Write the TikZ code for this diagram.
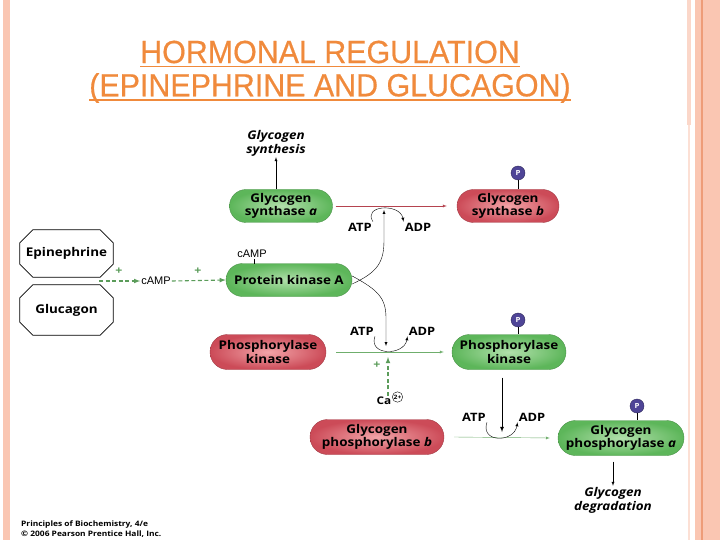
\documentclass[tikz,border=0pt]{standalone}
\usepackage{fontspec}
\setmainfont{Liberation Sans}
\newfontfamily\titlefont[FakeStretch=0.95,FakeBold=0.5]{Liberation Sans}
\newfontfamily\labelfont[FakeStretch=1.12]{Open Sans}
\usetikzlibrary{shapes.misc}

\definecolor{titleorange}{HTML}{F08A3C}
\definecolor{stripe}{HTML}{FAC6B2}
\definecolor{stripedark}{HTML}{EE9C78}
\definecolor{greenin}{HTML}{B2E0AC}
\definecolor{greenout}{HTML}{5DB65A}
\definecolor{redin}{HTML}{F2A4A8}
\definecolor{redout}{HTML}{CC4B58}
\definecolor{phosph}{HTML}{4F4597}
\definecolor{dashgreen}{HTML}{5B9C5A}
\definecolor{redline}{HTML}{B5434F}
\definecolor{greenline}{HTML}{6FAE6C}

\tikzset{
  titletext/.style={text=titleorange, inner sep=0pt, font=\titlefont\fontsize{32}{38}\selectfont},
  underl/.style={titleorange, line width=1.8pt},
  pill/.style={rounded rectangle, align=center, minimum height=33pt, inner sep=2pt,
    font=\labelfont\bfseries\fontsize{12}{13.5}\selectfont},
  greenpill/.style={pill, inner color=greenin, outer color=greenout, draw=greenout!80!black},
  redpill/.style={pill, inner color=redin, outer color=redout, draw=redout!80!black},
  hormone/.style={rectangle, inner sep=0pt, minimum width=93pt,
    font=\labelfont\bfseries\fontsize{12}{13}\selectfont},
  phos/.style={circle, fill=phosph, draw=phosph!60!black, inner sep=0pt, minimum size=14pt,
    text=white, font=\labelfont\bfseries\fontsize{7}{7}\selectfont},
  small/.style={inner sep=1pt, font=\labelfont\bfseries\fontsize{11.5}{12}\selectfont},
  outcome/.style={align=center, inner sep=1pt, font=\labelfont\bfseries\itshape\fontsize{12}{14}\selectfont},
  activ/.style={dashgreen, line width=1.1pt, dash pattern=on 4pt off 2.5pt, -latex},
  plus/.style={text=dashgreen, inner sep=0pt, font=\labelfont\bfseries\fontsize{11}{11}\selectfont}
}

\begin{document}
\begin{tikzpicture}[x=1pt,y=-1pt]
  \useasboundingbox (0,0) rectangle (720,540);
  % slide borders
  \fill[stripe] (3,0) rectangle (10,540);
  \fill[stripe!70] (687,0) rectangle (690.5,125);
  \fill[stripe!55] (688,125) rectangle (690,540);
  \fill[stripe] (695,0) rectangle (720,540);
  \draw[stripedark, line width=1.2pt] (702,0) -- (702,540);

  % title
  \node[titletext] (title1) at (330,52) {HORMONAL REGULATION};
  \node[titletext] (title2) at (330,88) {(EPINEPHRINE AND GLUCAGON)};
  \draw[underl] ([yshift=-3.5pt]title1.base west) -- ([yshift=-3.5pt]title1.base east);
  \draw[underl] ([yshift=-3.5pt]title2.base west) -- ([yshift=-3.5pt]title2.base east);

  % glycogen synthase
  \node[outcome] (synth) at (276,143) {Glycogen\\synthesis};
  \node[greenpill, minimum width=107pt] (gsa) at (281,206) {Glycogen\\synthase \textit{a}};
  \node[redpill, minimum width=106pt] (gsb) at (508,206) {Glycogen\\synthase \textit{b}};
  \node[phos] (p1) at (518,173) {P};
  \draw[thick] (p1) -- (p1 |- gsb.north);
  \draw[-latex] (gsa.north -| synth) -- (synth.south);
  \draw[redline, -latex] ([xshift=3pt]gsa.east) -- ([xshift=-10pt]gsb.west);
  \node[small] (atp1) at (360,227) {ATP};
  \node[small] (adp1) at (418,227) {ADP};
  \draw[-latex] (atp1.north east) .. controls (362,205) and (400,203) .. (adp1.north west);

  % hormones
  \node[hormone, minimum height=47pt] (epi) at (66.5,253.5) {Epinephrine};
  \node[hormone, minimum height=50pt] (glu) at (66.5,310) {Glucagon};
  \foreach \h in {epi,glu}
    \draw[thick] ([xshift=13pt]\h.north west) -- ([xshift=-13pt]\h.north east)
      -- ([yshift=-13pt]\h.north east) -- ([yshift=13pt]\h.south east)
      -- ([xshift=-13pt]\h.south east) -- ([xshift=13pt]\h.south west)
      -- ([yshift=13pt]\h.south west) -- ([yshift=-13pt]\h.north west) -- cycle;
  \node[inner sep=1pt, font=\fontsize{11}{12}\selectfont] (camp1) at (156,281) {cAMP};
  \draw[activ] (99,281) -- (camp1.west);
  \node[plus] (plus1) at (119,271) {+};

  % protein kinase A
  \node[greenpill, minimum width=130pt] (pka) at (289,280) {Protein kinase A};
  \node[inner sep=1pt, font=\fontsize{11}{12}\selectfont] (camp2) at (252,254) {cAMP};
  \draw (camp2.south -| 254,0) -- (254,264);
  \draw[activ] (camp1.east) -- (pka.west);
  \node[plus] (plus2) at (198,271) {+};
  \coordinate (hit1) at (384,210);
  \draw[-latex] ([yshift=-4pt]pka.east) .. controls (378,272) and (384,262) .. (384,240) -- (hit1);

  % phosphorylase kinase
  \node[redpill, minimum width=120pt, minimum height=35pt] (pkb) at (268,352) {Phosphorylase\\kinase};
  \node[greenpill, minimum width=118pt, minimum height=35pt] (pka2) at (509,352) {Phosphorylase\\kinase};
  \node[phos] (p2) at (518,320) {P};
  \draw[thick] (p2) -- (p2 |- pka2.north);
  \draw[greenline, -latex] ([xshift=10pt]pkb.east) -- ([xshift=-8pt]pka2.west);
  \node[small] (atp2) at (362,331) {ATP};
  \node[small] (adp2) at (422,331) {ADP};
  \draw[-latex] (atp2.south east) .. controls (368,356) and (404,356) .. (adp2.south west);
  \coordinate (hit2) at (386,346);
  \draw[-latex] ([yshift=4pt]pka.east) .. controls (378,290) and (386,298) .. (386,318) -- (hit2);
  \node[inner sep=1pt, font=\labelfont\bfseries\fontsize{10.5}{12}\selectfont] (ca) at (384,401) {Ca};
  \node[circle, draw, inner sep=0.6pt, font=\labelfont\bfseries\fontsize{6}{6}\selectfont] (cacharge) at ([xshift=5pt,yshift=4pt]ca.east) {2+};
  \coordinate (hit3) at (388,357);
  \draw[activ] (ca.north -| hit3) -- (hit3);
  \node[plus] (plus3) at (377,365) {+};

  % glycogen phosphorylase
  \node[redpill, minimum width=138pt, minimum height=35pt] (gpb) at (377,437) {Glycogen\\phosphorylase \textit{b}};
  \node[greenpill, minimum width=130pt, minimum height=35pt] (gpa) at (621,438) {Glycogen\\phosphorylase \textit{a}};
  \node[phos] (p3) at (637,406) {P};
  \draw[thick] (p3) -- (p3 |- gpa.north);
  \draw[greenline, -latex] ([xshift=10pt]gpb.east) -- ([xshift=-8pt]gpa.west);
  \node[small] (atp3) at (474,417) {ATP};
  \node[small] (adp3) at (532,417) {ADP};
  \draw[-latex] (atp3.south east) .. controls (480,443) and (514,443) .. (adp3.south west);
  \coordinate (hit4) at (502,432);
  \draw[thick, -latex] (pka2.south -| hit4) ++(0,8) -- (hit4);
  \node[outcome] (degr) at (613,500) {Glycogen\\degradation};
  \draw[-latex] ([yshift=-6pt]gpa.south -| degr) -- (degr.north);

  % footer
  \node[anchor=west, align=left, inner sep=0pt, font=\labelfont\bfseries\fontsize{7.5}{10.5}\selectfont] (credit) at (21,529)
    {Principles of Biochemistry, 4/e\\\textcopyright{} 2006 Pearson Prentice Hall, Inc.};
\end{tikzpicture}
\end{document}
